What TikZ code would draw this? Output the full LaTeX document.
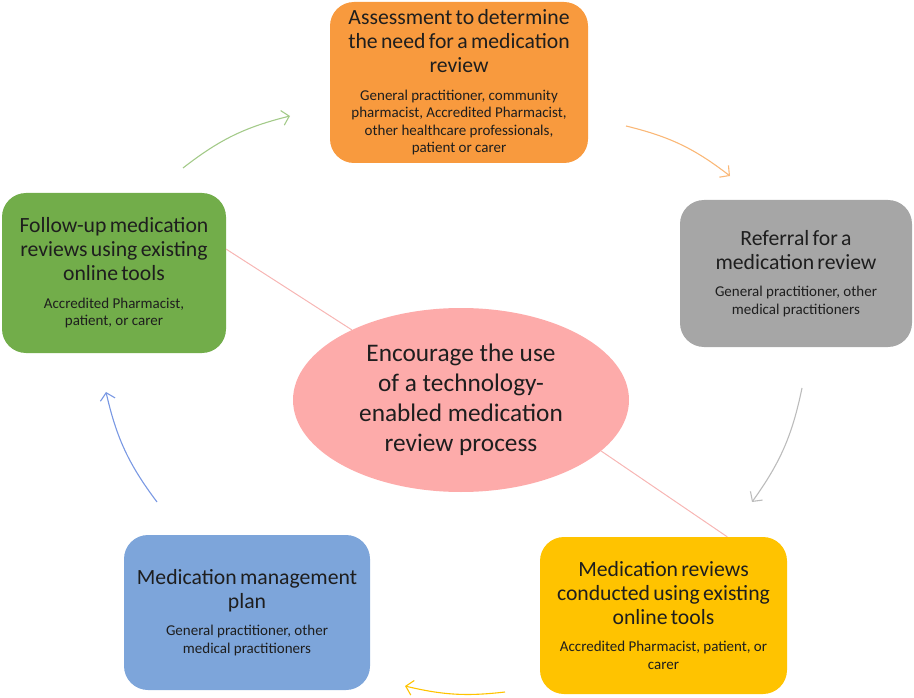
\documentclass[tikz,border=0pt]{standalone}
\usepackage{fontspec}
\setmainfont{Carlito}
\usetikzlibrary{arrows.meta}
\usetikzlibrary{shapes.geometric}
\definecolor{assessorange}{HTML}{F89A3E}
\definecolor{referralgray}{HTML}{A6A6A6}
\definecolor{conductyellow}{HTML}{FFC300}
\definecolor{planblue}{HTML}{7DA5DA}
\definecolor{followgreen}{HTML}{72AD4A}
\definecolor{centerpink}{HTML}{FDABAA}
\definecolor{spokepink}{HTML}{F7B6B4}
\definecolor{textdark}{HTML}{1E1E1E}
\newcommand{\stagetext}[2]{{\fontsize{21.7}{24}\selectfont #1\par}\vspace{10pt}{\fontsize{15}{17.5}\selectfont #2\par}}
\tikzset{stage/.style n args = {2}{rounded corners=24pt, minimum width=#1, text width=#1,
                                  minimum height=#2, inner xsep=0pt, inner ysep=0pt,
                                  align=center, text=textdark},
         flow/.style = {-{Straight Barb[length=7pt,width=15pt]}, line width=1.1pt},
         spoke/.style = {spokepink, line width=1pt}}

\begin{document}
\begin{tikzpicture}[x=1pt, y=1pt]
      \useasboundingbox (0, 0) rectangle (914, -698);
      \node [stage={258pt}{161pt}, fill=assessorange] (assess) at (459, -82.5)
            {\stagetext{Assessment to determine\\the need for a medication\\review}
                       {General practitioner, community\\pharmacist, Accredited Pharmacist,\\other healthcare professionals,\\patient or carer}};
      \node [stage={232pt}{147pt}, fill=referralgray] (referral) at (796, -273.5)
            {\stagetext{Referral for a\\medication review}
                       {General practitioner, other\\medical practitioners}};
      \node [stage={247pt}{157pt}, fill=conductyellow] (conduct) at (663.5, -615.5)
            {\stagetext{Medication reviews\\conducted using existing\\online tools}
                       {Accredited Pharmacist, patient, or\\carer}};
      \node [stage={246pt}{155pt}, fill=planblue] (plan) at (247, -612.5)
            {\stagetext{Medication management\\plan}
                       {General practitioner, other\\medical practitioners}};
      \node [stage={224pt}{160pt}, fill=followgreen] (followup) at (114, -273)
            {\stagetext{Follow-up medication\\reviews using existing\\online tools}
                       {Accredited Pharmacist,\\patient, or carer}};
      \node [ellipse, fill=centerpink, minimum width=336pt, minimum height=184pt,
             inner sep=0pt, align=center, text=textdark,
             font=\fontsize{25.3}{30}\selectfont] (center) at (461, -400)
            {Encourage the use\\of a technology-\\enabled medication\\review process};
      \draw [spoke] (center) -- (followup.12);
      \draw [spoke] (center.-20) -- (conduct.51);
      \coordinate (greenstart) at (183, -168);
      \coordinate (greenend) at (290, -116);
      \coordinate (orangestart) at (626, -126);
      \coordinate (orangeend) at (730, -176);
      \coordinate (graystart) at (802, -388);
      \coordinate (grayend) at (752, -502);
      \coordinate (yellowstart) at (505, -692);
      \coordinate (yellowend) at (405, -686);
      \coordinate (bluestart) at (157, -502);
      \coordinate (blueend) at (106, -392);
      \draw [flow, color=followgreen!65] (greenstart) to [bend left=12] (greenend);
      \draw [flow, color=assessorange!70] (orangestart) to [bend left=12] (orangeend);
      \draw [flow, color=referralgray!75] (graystart) to [bend left=12] (grayend);
      \draw [flow, color=conductyellow] (yellowstart) to [bend left=10] (yellowend);
      \draw [flow, color=planblue!85!blue!90] (bluestart) to [bend left=12] (blueend);
    \end{tikzpicture}
\end{document}
